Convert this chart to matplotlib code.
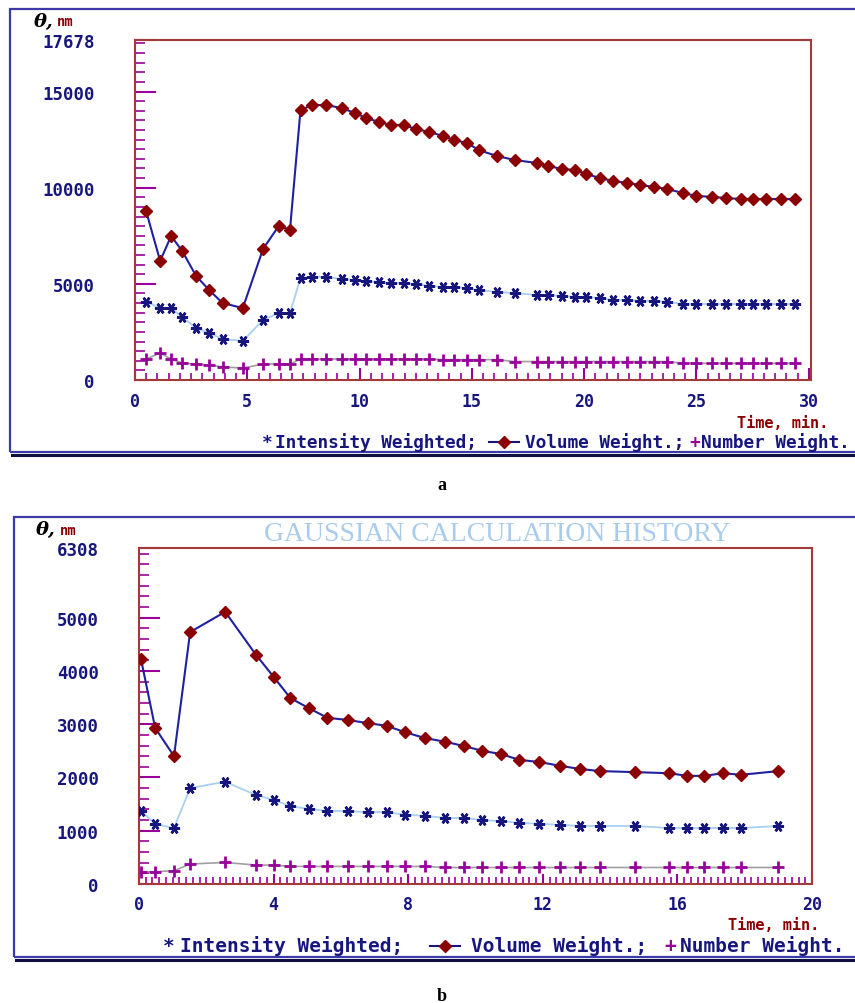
import matplotlib
matplotlib.use("Agg")
import matplotlib.pyplot as plt
from matplotlib.lines import Line2D
from matplotlib.patches import Rectangle
from matplotlib.ticker import MultipleLocator, FixedLocator

W, H = 855, 1004

# ---- panel a data (time, min / size, nm) ----
t_a = [0.49, 1.12, 1.61, 2.1, 2.72, 3.3, 3.9, 4.8, 5.7, 6.4, 6.9, 7.37, 7.9, 8.5, 9.2, 9.8,
       10.3, 10.85, 11.4, 11.96, 12.5, 13.1, 13.7, 14.2, 14.8, 15.3, 16.1, 16.9, 17.9, 18.4,
       19.0, 19.6, 20.1, 20.7, 21.3, 21.9, 22.5, 23.1, 23.7, 24.4, 25.0, 25.7, 26.3, 27.0,
       27.5, 28.1, 28.75, 29.4]
vol_a = [8800, 6190, 7490, 6710, 5410, 4680, 4000, 3740, 6810, 8010, 7800, 14040, 14300, 14300,
         14140, 13880, 13620, 13420, 13260, 13260, 13050, 12900, 12690, 12480, 12320, 11960,
         11650, 11440, 11280, 11130, 10970, 10920, 10710, 10500, 10350, 10240, 10140, 10040,
         9930, 9720, 9570, 9520, 9460, 9410, 9410, 9410, 9410, 9410]
int_a = [4060, 3740, 3740, 3280, 2700, 2440, 2130, 2030, 3120, 3480, 3480, 5300, 5360, 5360,
         5250, 5200, 5150, 5100, 5040, 5040, 4990, 4890, 4840, 4840, 4780, 4680, 4580, 4520,
         4420, 4420, 4370, 4320, 4320, 4260, 4160, 4160, 4110, 4110, 4060, 3950, 3950, 3950,
         3950, 3950, 3950, 3950, 3950, 3950]
num_a = [1090, 1400, 1090, 880, 830, 780, 680, 620, 830, 830, 830, 1090, 1090, 1090, 1090,
         1090, 1090, 1090, 1090, 1090, 1090, 1090, 1060, 1060, 1060, 1060, 1060, 960, 960, 960,
         960, 960, 960, 960, 960, 960, 960, 960, 960, 870, 870, 870, 870, 870, 870, 870, 870, 870]

# ---- panel b data ----
t_b = [0.06, 0.48, 1.04, 1.52, 2.56, 3.48, 4.0, 4.5, 5.05, 5.6, 6.2, 6.8, 7.36, 7.9, 8.5, 9.1,
       9.66, 10.2, 10.76, 11.3, 11.9, 12.5, 13.1, 13.7, 14.74, 15.75, 16.3, 16.8, 17.35, 17.9, 19.0]
vol_b = [4220, 2930, 2400, 4730, 5110, 4300, 3890, 3490, 3300, 3120, 3080, 3020, 2970, 2850,
         2740, 2670, 2590, 2500, 2440, 2330, 2290, 2220, 2160, 2120, 2100, 2080, 2030, 2030,
         2080, 2050, 2120]
int_b = [1370, 1130, 1050, 1800, 1920, 1670, 1580, 1460, 1410, 1370, 1370, 1350, 1350, 1300,
         1280, 1240, 1240, 1200, 1180, 1150, 1130, 1110, 1090, 1090, 1090, 1050, 1050, 1050,
         1050, 1050, 1090]
num_b = [230, 230, 250, 375, 405, 355, 355, 330, 330, 330, 330, 330, 330, 330, 330, 310, 310,
         310, 310, 310, 310, 310, 310, 310, 310, 310, 310, 310, 310, 310, 310]

yticks_a = [0, 5000, 10000, 15000, 17678]
yticks_b = [0, 1000, 2000, 3000, 4000, 5000, 6308]
xticks_a = [0, 5, 10, 15, 20, 25, 30]
xticks_b = [0, 4, 8, 12, 16, 20]

NAVY = "#16167e"
DRED = "#8b0000"
SPINE = "#a33a3a"
PURP = "#990099"
LBLUE = "#a8d0f0"
GRAY = "#a0a0a0"
MONO = "DejaVu Sans Mono"

fig = plt.figure(figsize=(W / 100, H / 100), dpi=100)


def fx(px):
    return px / W


def fy(py):
    return 1 - py / H


def frame(left, top, bottom):
    # blue panel border with dark shadow at the bottom
    fig.patches.append(Rectangle((fx(left), fy(bottom)), fx(870 - left), fy(top) - fy(bottom),
                                 transform=fig.transFigure, fill=False, ec="#3a3aa8", lw=1.6))
    fig.lines.append(Line2D([fx(left + 2), fx(870)], [fy(bottom + 2.5)] * 2,
                            transform=fig.transFigure, color="#101040", lw=2.2))


def legend_row(y, size, x_star, x_int, x_line, x_vol, x_plus, x_num):
    kw = dict(fontsize=size, fontweight="bold", family=MONO, color=NAVY, va="center")
    fig.text(fx(x_star), fy(y), "*", **kw)
    fig.text(fx(x_int), fy(y), "Intensity Weighted;", **kw)
    fig.lines.append(Line2D([fx(x_line), fx(x_line + 30)], [fy(y)] * 2, transform=fig.transFigure,
                            color=NAVY, lw=1.5))
    fig.lines.append(Line2D([fx(x_line + 15)], [fy(y)], transform=fig.transFigure, marker="D",
                            ms=6, color=DRED, mec=DRED))
    fig.text(fx(x_vol), fy(y), "Volume Weight.;", **kw)
    fig.text(fx(x_plus), fy(y), "+", **dict(kw, color=PURP))
    fig.text(fx(x_num), fy(y), "Number Weight.", **kw)


def panel(box, t, vol, inten, num, xmax, ymax, yticks, xticks, yminor, xminor, xmajor_len, xpad):
    l, t0, r, b = box
    ax = fig.add_axes([fx(l), fy(b), fx(r - l), fy(t0) - fy(b)])
    ax.plot(t, num, color=GRAY, lw=1.2, marker="+", ms=8, mew=2, mec=PURP, zorder=2)
    ax.plot(t, inten, color=LBLUE, lw=1.3, marker=(6, 2, 90), ms=8, mew=1.8, mec=NAVY, zorder=3)
    ax.plot(t, vol, color="#2020a0", lw=1.5, marker="D", ms=6.5, mfc=DRED, mec=DRED, zorder=4)
    ax.set_xlim(0, xmax)
    ax.set_ylim(0, ymax)
    for s in ax.spines.values():
        s.set_color(SPINE)
        s.set_linewidth(1.5)
    ax.yaxis.set_major_locator(FixedLocator(yticks))
    ax.yaxis.set_minor_locator(MultipleLocator(yminor))
    ax.xaxis.set_major_locator(FixedLocator(xticks))
    ax.xaxis.set_minor_locator(MultipleLocator(xminor))
    ax.tick_params(axis="y", which="major", direction="in", length=15, width=1.5, color=PURP,
                   pad=29, labelsize=12.5, labelcolor=NAVY)
    ax.tick_params(axis="y", which="minor", direction="in", length=7, width=1.2, color=PURP)
    ax.tick_params(axis="x", which="major", direction="in", length=xmajor_len, width=1.5,
                   color=PURP, pad=xpad, labelsize=12, labelcolor=NAVY)
    ax.tick_params(axis="x", which="minor", direction="in", length=5, width=1.2, color=PURP)
    ax.set_yticklabels([str(v) for v in yticks])
    ax.set_xticklabels([str(v) for v in xticks])
    for lab in ax.get_xticklabels() + ax.get_yticklabels():
        lab.set_family(MONO)
        lab.set_fontweight("bold")
    return ax


# ---- panel a ----
frame(9.5, 9.5, 453)
panel((135, 41, 811, 381), t_a, vol_a, int_a, num_a, 30.1, 17678, yticks_a, xticks_a,
      500, 0.5, 9, 8.5)
fig.text(fx(34), fy(22), "θ,", fontsize=14, fontweight="bold", style="italic",
         family="DejaVu Serif", color="black", va="center")
fig.text(fx(57), fy(22.5), "nm", fontsize=10, fontweight="bold", family=MONO, color=DRED,
         va="center")
fig.text(fx(737), fy(424), "Time, min.", fontsize=11, fontweight="bold", family=MONO,
         color=DRED, va="center")
legend_row(443, 12.8, 262, 275, 489, 525, 689, 701)
fig.text(fx(442), fy(485), "a", fontsize=13, fontweight="bold", family="Liberation Serif",
         ha="center", va="center")

# ---- panel b ----
frame(14, 518, 958)
panel((139, 549, 812, 885), t_b, vol_b, int_b, num_b, 20.0, 6308, yticks_b, xticks_b,
      200, 0.2, 7, 8)
fig.text(fx(497), fy(535), "GAUSSIAN CALCULATION HISTORY", fontsize=20,
         family="Liberation Serif", color="#a9ccec", ha="center", va="center")
fig.text(fx(36), fy(530), "θ,", fontsize=14, fontweight="bold", style="italic",
         family="DejaVu Serif", color="black", va="center")
fig.text(fx(60), fy(531), "nm", fontsize=10, fontweight="bold", family=MONO, color=DRED,
         va="center")
fig.text(fx(728), fy(925.5), "Time, min.", fontsize=11, fontweight="bold", family=MONO,
         color=DRED, va="center")
legend_row(946.5, 14, 163, 180, 430, 471, 664, 680)
fig.text(fx(442), fy(997), "b", fontsize=13, fontweight="bold", family="Liberation Serif",
         ha="center", va="center")

fig.savefig("out.png", dpi=100)
